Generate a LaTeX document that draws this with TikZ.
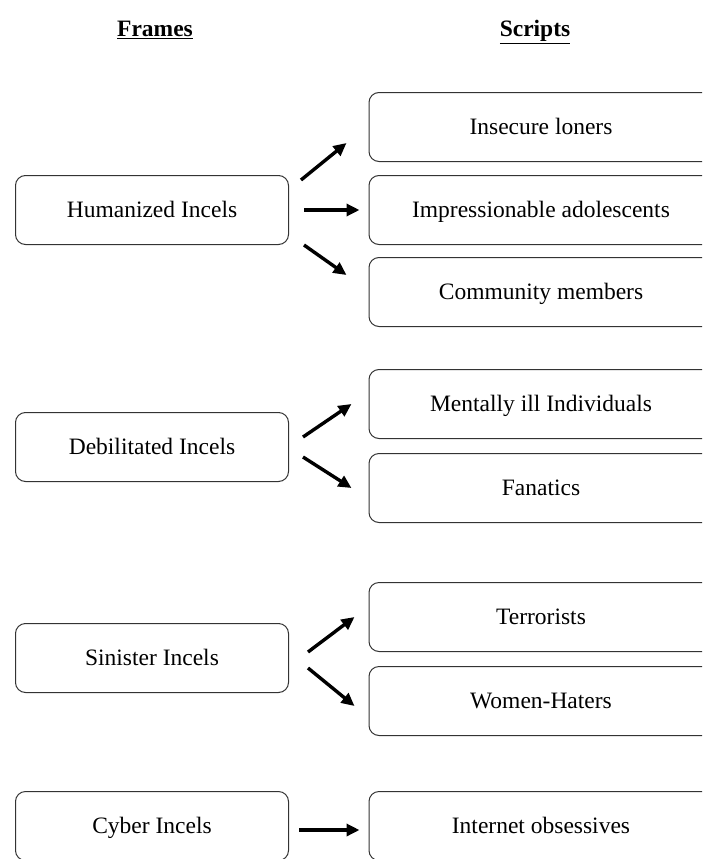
\documentclass[tikz,border=0pt]{standalone}
\usepackage{fontspec}
\setmainfont{Liberation Serif}
\usetikzlibrary{arrows.meta}

\begin{document}
\begin{tikzpicture}[x=1pt, y=-1pt,
		every node/.style={
			font=\fontsize{23.5}{27}\selectfont,
			align=center,
			text height=18pt,
			text depth=4pt
		},
		framebox/.style={
			draw=black!80,
			line width=1pt,
			rectangle,
			rounded corners=10pt,
			minimum width=273pt,
			minimum height=69pt
		},
		scriptbox/.style={framebox, minimum width=344pt},
		heading/.style={font=\fontsize{23.5}{27}\selectfont\bfseries},
		arr/.style={-{Triangle[length=13pt,width=12pt]}, line width=3.4pt}
		]
		
		\useasboundingbox (0,0) rectangle (702,859);
		\clip (0,0) rectangle (702,859);
		
		% headings
		\node[heading] (hframes) at (155,30) {\underline{Frames}};
		\node[heading] (hscripts) at (535,30) {\underline{Scripts}};
		
		% humanized
		\node[framebox] (hum) at (152,210) {Humanized Incels};
		\node[scriptbox] (ins) at (541,127) {Insecure loners};
		\node[scriptbox] (imp) at (541,210) {Impressionable adolescents};
		\node[scriptbox] (com) at (541,292) {Community members};
		
		% debilitated
		\node[framebox] (deb) at (152,447) {Debilitated Incels};
		\node[scriptbox] (men) at (541,404) {Mentally ill Individuals};
		\node[scriptbox] (fan) at (541,488) {Fanatics};
		
		% sinister
		\node[framebox] (sin) at (152,658) {Sinister Incels};
		\node[scriptbox] (ter) at (541,617) {Terrorists};
		\node[scriptbox] (wom) at (541,701) {Women-Haters};
		
		% cyber
		\node[framebox] (cyb) at (152,826) {Cyber Incels};
		\node[scriptbox] (int) at (541,826) {Internet obsessives};
		
		\draw[arr] ([xshift=12pt,yshift=30pt]hum.east) -- ([xshift=-22pt,yshift=19pt]ins.south west);
		\draw[arr] ([xshift=15pt]hum.east) -- ([xshift=-9pt]imp.west);
		\draw[arr] ([xshift=15pt,yshift=-35pt]hum.east) -- ([xshift=-22pt,yshift=-18pt]com.north west);
		
		\draw[arr] ([xshift=14pt,yshift=10pt]deb.east) -- ([xshift=-17pt,yshift=35pt]men.south west);
		\draw[arr] ([xshift=14pt,yshift=-10pt]deb.east) -- ([xshift=-17pt,yshift=-35pt]fan.north west);
		
		\draw[arr] ([xshift=19pt,yshift=6pt]sin.east) -- ([xshift=-14pt,yshift=35pt]ter.south west);
		\draw[arr] ([xshift=19pt,yshift=-10pt]sin.east) -- ([xshift=-14pt,yshift=-40pt]wom.north west);
		
		\draw[arr] ([xshift=10pt,yshift=-4pt]cyb.east) -- ([xshift=-9pt,yshift=-4pt]int.west);
		
	\end{tikzpicture}
\end{document}
